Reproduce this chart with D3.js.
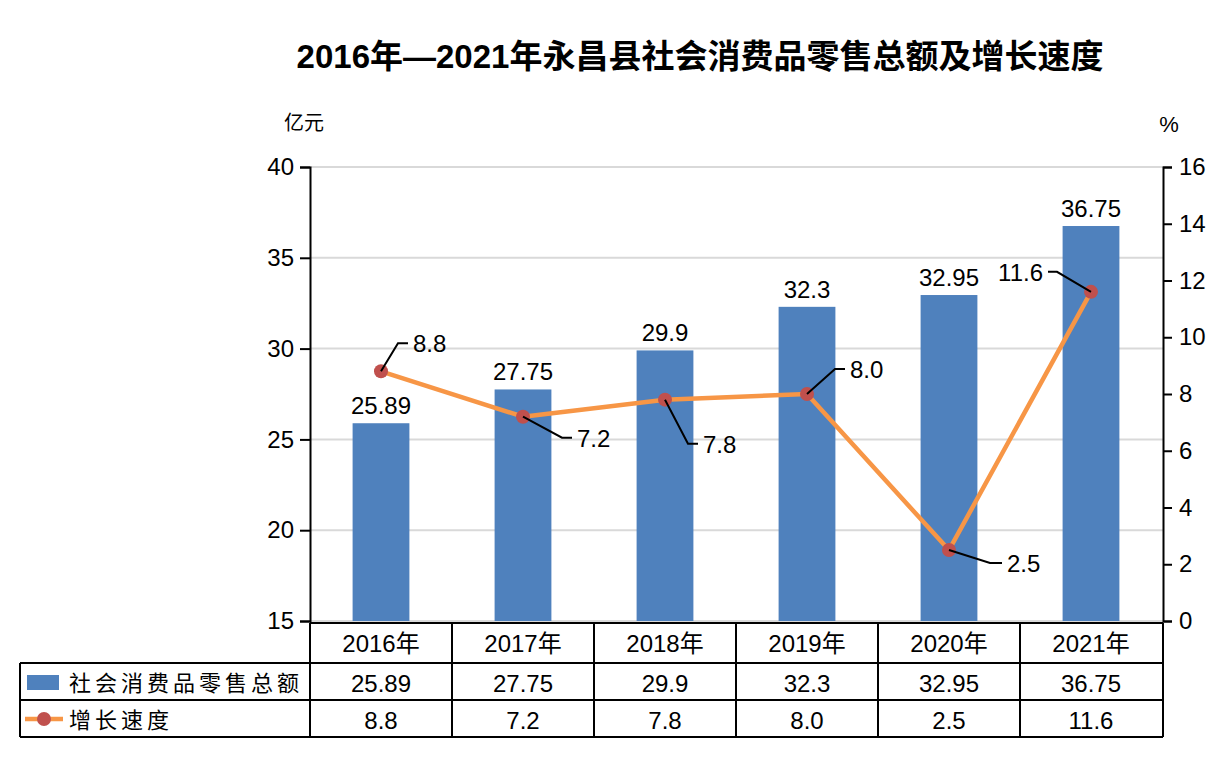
<!DOCTYPE html>
<html>
<head>
<meta charset="utf-8">
<script src="https://cdn.jsdelivr.net/npm/d3@7"></script>
<style>
    body { margin: 0; background: #fff; }
    text { font-family: Arial, "Liberation Sans", "Noto Sans CJK SC", sans-serif; }
</style>
</head>
<body>
<svg id="chart" width="1226" height="769"></svg>
<script>
var years = ['2016年', '2017年', '2018年', '2019年', '2020年', '2021年'];
var retailSales = [25.89, 27.75, 29.9, 32.3, 32.95, 36.75];
var growthRate = [8.8, 7.2, 7.8, 8.0, 2.5, 11.6];
var retailLabels = ['25.89', '27.75', '29.9', '32.3', '32.95', '36.75'];
var growthLabels = ['8.8', '7.2', '7.8', '8.0', '2.5', '11.6'];
var leftTicks = [15, 20, 25, 30, 35, 40];
var rightTicks = [0, 2, 4, 6, 8, 10, 12, 14, 16];

// leader line elbows for the growth labels: [dx, dy, horizontal run]
var leaderOffsets = [[17, -28, 10], [39, 21, 10], [23, 44, 10], [28, -25, 10], [41, 13, 12], [-34, -20, -9]];

var BAR = '#4f81bd';
var LINE = '#f79646';
var DOT = '#c0504d';

var svg = d3.select('#chart');

var plotLeft = 310, plotRight = 1163, plotTop = 167, plotBottom = 621;

var x = d3.scaleBand()
    .domain(years)
    .range([plotLeft, plotRight - 1])
    .paddingInner(0.6)
    .paddingOuter(0.3);

var yL = d3.scaleLinear().domain([15, 40]).range([plotBottom, plotTop]);
var yR = d3.scaleLinear().domain([0, 16]).range([plotBottom, plotTop]);

svg.append('text')
    .attr('x', 700)
    .attr('y', 68)
    .attr('text-anchor', 'middle')
    .attr('font-size', 33)
    .attr('font-weight', 'bold')
    .text('2016年—2021年永昌县社会消费品零售总额及增长速度');

svg.append('text')
    .attr('x', 304)
    .attr('y', 130)
    .attr('text-anchor', 'middle')
    .attr('font-size', 20)
    .text('亿元');

svg.append('text')
    .attr('x', 1169)
    .attr('y', 132)
    .attr('text-anchor', 'middle')
    .attr('font-size', 22)
    .text('%');

// grid
svg.append('g')
    .selectAll('line')
    .data(leftTicks)
    .join('line')
    .attr('x1', plotLeft)
    .attr('x2', plotRight)
    .attr('y1', d => yL(d))
    .attr('y2', d => yL(d))
    .attr('stroke', '#d9d9d9')
    .attr('stroke-width', 2);

// bars
svg.append('g')
    .selectAll('rect')
    .data(retailSales)
    .join('rect')
    .attr('x', (d, i) => x(years[i]))
    .attr('y', d => yL(d))
    .attr('width', x.bandwidth())
    .attr('height', d => plotBottom - yL(d))
    .attr('fill', BAR);

svg.append('g')
    .selectAll('text')
    .data(retailSales)
    .join('text')
    .attr('x', (d, i) => x(years[i]) + x.bandwidth() / 2)
    .attr('y', d => yL(d) - 9)
    .attr('text-anchor', 'middle')
    .attr('font-size', 24)
    .text((d, i) => retailLabels[i]);

// axes
var axisL = svg.append('g')
    .attr('transform', `translate(${plotLeft},0)`)
    .call(d3.axisLeft(yL).tickValues(leftTicks).tickSize(10).tickPadding(6));

var axisR = svg.append('g')
    .attr('transform', `translate(${plotRight},0)`)
    .call(d3.axisRight(yR).tickValues(rightTicks).tickSize(9).tickPadding(7));

[axisL, axisR].forEach(function (a) {
    a.select('.domain').attr('stroke', '#000').attr('stroke-width', 2);
    a.selectAll('.tick line').attr('stroke', '#000').attr('stroke-width', 2);
    a.selectAll('.tick text')
        .attr('font-size', 24)
        .attr('font-family', 'Arial, "Liberation Sans", sans-serif')
        .attr('fill', '#000');
});

// growth line
var cx = (d, i) => x(years[i]) + x.bandwidth() / 2;

svg.append('path')
    .datum(growthRate)
    .attr('d', d3.line().x(cx).y(d => yR(d)))
    .attr('fill', 'none')
    .attr('stroke', LINE)
    .attr('stroke-width', 4.5)
    .attr('stroke-linejoin', 'round');

svg.append('g')
    .selectAll('circle')
    .data(growthRate)
    .join('circle')
    .attr('cx', cx)
    .attr('cy', d => yR(d))
    .attr('r', 7)
    .attr('fill', DOT);

var leaders = svg.append('g')
    .selectAll('g')
    .data(growthRate)
    .join('g');

leaders.append('polyline')
    .attr('points', function (d, i) {
        var px = cx(d, i), py = yR(d), o = leaderOffsets[i];
        return [[px, py], [px + o[0], py + o[1]], [px + o[0] + o[2], py + o[1]]].join(' ');
    })
    .attr('fill', 'none')
    .attr('stroke', '#000')
    .attr('stroke-width', 2);

leaders.append('text')
    .attr('x', function (d, i) {
        var o = leaderOffsets[i];
        return cx(d, i) + o[0] + o[2] + (o[2] > 0 ? 5 : -5);
    })
    .attr('y', (d, i) => yR(d) + leaderOffsets[i][1] + 9)
    .attr('text-anchor', (d, i) => leaderOffsets[i][2] > 0 ? 'start' : 'end')
    .attr('font-size', 24)
    .text((d, i) => growthLabels[i]);

// data table
var rows = [623, 663, 700, 737];
var table = svg.append('g')
    .attr('stroke', '#000')
    .attr('stroke-width', 2);

table.append('line').attr('x1', plotLeft).attr('x2', plotRight).attr('y1', rows[0]).attr('y2', rows[0]);
[1, 2, 3].forEach(function (r) {
    table.append('line').attr('x1', 20).attr('x2', plotRight).attr('y1', rows[r]).attr('y2', rows[r]);
});
table.append('line').attr('x1', 20).attr('x2', 20).attr('y1', rows[1]).attr('y2', rows[3]);

var colEdges = years.map((d, i) => plotLeft + i * x.step()).concat([plotRight]);
colEdges.forEach(function (ex) {
    table.append('line').attr('x1', ex).attr('x2', ex).attr('y1', rows[0]).attr('y2', rows[3]);
});

var colCenter = i => plotLeft + (i + 0.5) * x.step();

svg.append('g')
    .selectAll('text')
    .data(years)
    .join('text')
    .attr('x', (d, i) => colCenter(i))
    .attr('y', 652)
    .attr('text-anchor', 'middle')
    .attr('font-size', 24)
    .text(d => d);

svg.append('g')
    .selectAll('text')
    .data(retailLabels)
    .join('text')
    .attr('x', (d, i) => colCenter(i))
    .attr('y', 692)
    .attr('text-anchor', 'middle')
    .attr('font-size', 24)
    .text(d => d);

svg.append('g')
    .selectAll('text')
    .data(growthLabels)
    .join('text')
    .attr('x', (d, i) => colCenter(i))
    .attr('y', 729)
    .attr('text-anchor', 'middle')
    .attr('font-size', 24)
    .text(d => d);

// legend keys inside the table
svg.append('rect')
    .attr('x', 27).attr('y', 675).attr('width', 32).attr('height', 15)
    .attr('fill', BAR);

svg.append('text')
    .attr('x', 69).attr('y', 691)
    .attr('font-size', 22)
    .attr('letter-spacing', 4)
    .text('社会消费品零售总额');

svg.append('line')
    .attr('x1', 25).attr('x2', 63).attr('y1', 719).attr('y2', 719)
    .attr('stroke', LINE).attr('stroke-width', 4.5);

svg.append('circle')
    .attr('cx', 44).attr('cy', 719).attr('r', 7)
    .attr('fill', DOT);

svg.append('text')
    .attr('x', 69).attr('y', 728)
    .attr('font-size', 22)
    .attr('letter-spacing', 4)
    .text('增长速度');
</script>
</body>
</html>
